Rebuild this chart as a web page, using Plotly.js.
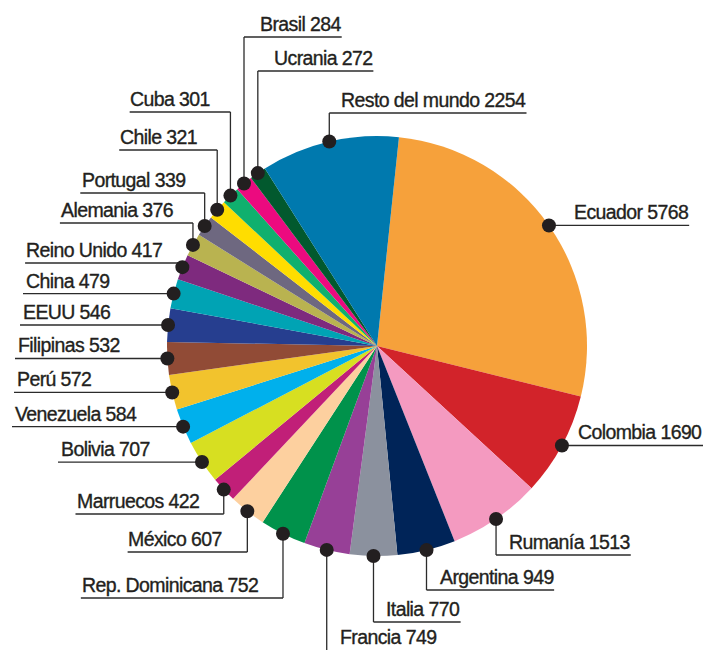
<!DOCTYPE html>
<html>
<head>
<meta charset="utf-8">
<script src="https://cdn.plot.ly/plotly-3.0.1.min.js"></script>
<style>html,body{margin:0;padding:0;background:#fff;}#chart{width:704px;height:650px;}
.annotation-text{letter-spacing:-0.6px;stroke:#231f20;stroke-width:0.35px;}</style>
</head>
<body>
<div id="chart"></div>
<script>
// ---- data ----
const countries = ['Ecuador','Colombia','Rumanía','Argentina','Italia','Francia','Rep. Dominicana','México','Marruecos','Bolivia','Venezuela','Perú','Filipinas','EEUU','China','Reino Unido','Alemania','Portugal','Chile','Cuba','Brasil','Ucrania','Resto del mundo'];
const values = [5768,1690,1513,949,770,749,752,607,422,707,584,572,532,546,479,417,376,339,321,301,284,272,2254];
const colors = ['#f6a13b','#d2232a','#f49ac0','#002458','#8b919e','#974097','#00924b','#fdd09f','#c11f78','#d7df21','#00b0ec','#f2c32d','#914b36','#263e8f','#00a3b4','#7e2a7e','#b9b350','#6e6880','#ffdd00','#10b06e','#ec0a7f','#02592e','#0079ae'];

// ---- label placement (layout only) ----
const labelLayout = [
  {k:'hRg', gap:24}, {k:'hR', end:703},
  {k:'vR', y:555}, {k:'vR', y:590}, {k:'vR', y:622}, {k:'vR', y:653},
  {k:'vL', y:598}, {k:'vL', y:552}, {k:'vL', y:514},
  {k:'hL', left:60}, {k:'hL', left:14}, {k:'hL', left:16}, {k:'hL', left:17}, {k:'hL', left:22}, {k:'hL', left:25},
  {k:'vL', y:263, gap:19}, {k:'vL', y:223, gap:19}, {k:'vL', y:193, gap:19}, {k:'vL', y:150, gap:19}, {k:'vL', y:112, gap:19},
  {k:'vR', y:37, gap:15}, {k:'vR', y:71, gap:15}, {k:'vR', y:113, gap:11}
];

const W = 704, H = 650;
const CX = 377, CY = 346, R = 210, ROT = 6;
const FS = 19.5, LS = -0.6;
const FONT = '"Liberation Sans", Arial, sans-serif';
const TXT = '#231f20', LINE = '#2b2b2b';

const ctx = document.createElement('canvas').getContext('2d');
ctx.font = FS + 'px ' + FONT;
const tw = s => ctx.measureText(s).width + LS * s.length;

const total = values.reduce((a,b)=>a+b,0);
let cum = 0;
const dots = values.map(v => {
  const a = (ROT + (cum + v/2)/total*360) * Math.PI/180;
  cum += v;
  return {x: CX + R*Math.sin(a), y: CY - R*Math.cos(a)};
});

const shapes = [], annotations = [];
const ln = (x0,y0,x1,y1) => shapes.push({type:'line', xref:'x', yref:'y', x0, y0, x1, y1, line:{color:LINE, width:1.3}, layer:'above'});
const txt = (t, x, y, xa) => annotations.push({text:t, x, y:Math.min(y, H-1), xref:'x', yref:'y', xanchor:xa, yanchor:'bottom', showarrow:false, borderpad:0, font:{family:FONT, size:FS, color:TXT}});

countries.forEach((c,i) => {
  const t = c + ' ' + values[i];
  const w = tw(t);
  const d = dots[i], L = labelLayout[i];
  if (L.k === 'hR') {
    ln(d.x, d.y, L.end, d.y);
    txt(t, L.end, d.y - 1, 'right');
  } else if (L.k === 'hRg') {
    ln(d.x, d.y, d.x + L.gap + w + 2, d.y);
    txt(t, d.x + L.gap, d.y - 1, 'left');
  } else if (L.k === 'hL') {
    ln(L.left - 2, d.y, d.x, d.y);
    txt(t, L.left, d.y - 1, 'left');
  } else if (L.k === 'vR') {
    const g = L.gap || 12;
    ln(d.x, d.y, d.x, L.y);
    ln(d.x, L.y, d.x + g + w + 2, L.y);
    txt(t, d.x + g, L.y - 1, 'left');
  } else {
    const g = L.gap || 24;
    ln(d.x, d.y, d.x, L.y);
    ln(d.x - g - w - 2, L.y, d.x, L.y);
    txt(t, d.x - g, L.y - 1, 'right');
  }
});
dots.forEach(d => shapes.push({type:'circle', xref:'x', yref:'y', x0:d.x-7, x1:d.x+7, y0:d.y-7, y1:d.y+7, fillcolor:TXT, line:{width:0}, layer:'above'}));

const pie = {
  type:'pie', labels:countries, values:values, sort:false, direction:'clockwise', rotation:ROT,
  marker:{colors:colors, line:{width:0}}, textinfo:'none', hoverinfo:'label+value',
  domain:{x:[(CX-R)/W,(CX+R)/W], y:[(H-CY-R)/H,(H-CY+R)/H]}, showlegend:false
};
const dummy = {type:'scatter', x:[0], y:[0], mode:'markers', marker:{opacity:0}, hoverinfo:'skip', showlegend:false};

Plotly.newPlot('chart', [dummy, pie], {
  width:W, height:H, margin:{l:0,r:0,t:0,b:0}, paper_bgcolor:'#fff', plot_bgcolor:'rgba(0,0,0,0)',
  showlegend:false,
  xaxis:{range:[0,W], visible:false, fixedrange:true},
  yaxis:{range:[H,0], visible:false, fixedrange:true},
  shapes, annotations
}, {displayModeBar:false, staticPlot:true});
</script>
</body>
</html>
